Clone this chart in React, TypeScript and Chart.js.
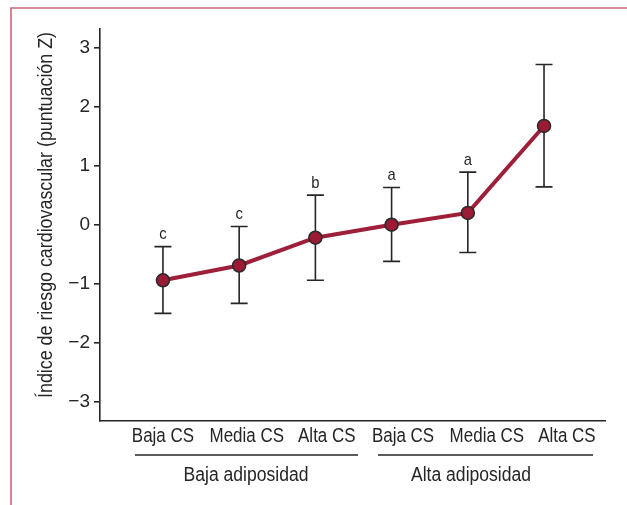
import React, { useEffect, useRef } from "react";
import { Chart, registerables } from "chart.js";

Chart.register(...registerables);

const categories = ["Baja CS", "Media CS", "Alta CS", "Baja CS", "Media CS", "Alta CS"];
const labelPositions = [1, 2.1, 3.15, 4.15, 5.25, 6.3];
const meanValues = [-0.94, -0.69, -0.22, 0.0, 0.2, 1.67];
const upperValues = [-0.37, -0.03, 0.5, 0.63, 0.89, 2.71];
const lowerValues = [-1.5, -1.33, -0.94, -0.62, -0.47, 0.64];
const letters = ["c", "c", "b", "a", "a", ""];
const yTicks = [-3, -2, -1, 0, 1, 2, 3];
const groupNames = ["Baja adiposidad", "Alta adiposidad"];
const yTitle = "Índice de riesgo cardiovascular (puntuación Z)";

const FONT = "'Liberation Sans', Arial, sans-serif";
const INK = "#262626";
const CONDENSE = 0.87;

function condensedText(ctx: any, text: string, x: number, y: number, size: number, factor = CONDENSE) {
  ctx.save();
  ctx.font = `${size}px ${FONT}`;
  ctx.fillStyle = INK;
  ctx.textAlign = "center";
  ctx.textBaseline = "middle";
  ctx.translate(x, y);
  ctx.scale(factor, 1);
  ctx.fillText(text, 0, 0);
  ctx.restore();
}

const decorPlugin = {
  id: "decor",
  beforeDatasetsDraw(chart: any) {
    const ctx = chart.ctx;
    const xs = chart.scales.x;
    const ys = chart.scales.y;
    ctx.save();
    ctx.strokeStyle = INK;
    ctx.lineWidth = 1.6;
    for (let i = 0; i < meanValues.length; i++) {
      const x = xs.getPixelForValue(i + 1);
      const yt = ys.getPixelForValue(upperValues[i]);
      const yb = ys.getPixelForValue(lowerValues[i]);
      ctx.beginPath();
      ctx.moveTo(x, yt);
      ctx.lineTo(x, yb);
      ctx.moveTo(x - 8.5, yt);
      ctx.lineTo(x + 8.5, yt);
      ctx.moveTo(x - 8.5, yb);
      ctx.lineTo(x + 8.5, yb);
      ctx.stroke();
      if (letters[i]) condensedText(ctx, letters[i], x, yt - 12, 17);
    }
    ctx.restore();
  },
  afterDraw(chart: any) {
    const ctx = chart.ctx;
    const xs = chart.scales.x;
    ctx.save();
    // frame
    ctx.strokeStyle = "#c8687c";
    ctx.lineWidth = 1.6;
    ctx.beginPath();
    ctx.moveTo(11, 505);
    ctx.lineTo(11, 8);
    ctx.lineTo(627, 8);
    ctx.stroke();
    // y title
    ctx.fillStyle = INK;
    ctx.font = `20px ${FONT}`;
    ctx.textAlign = "center";
    ctx.textBaseline = "middle";
    ctx.translate(46, 215);
    ctx.rotate(-Math.PI / 2);
    const w = ctx.measureText(yTitle).width;
    ctx.scale(366 / w, 1);
    ctx.fillText(yTitle, 0, 0);
    ctx.restore();

    // category labels along the x scale
    xs.ticks.forEach((t: any, i: number) => {
      condensedText(ctx, categories[i], xs.getPixelForValue(t.value), 437, 19.5);
    });

    ctx.save();
    ctx.strokeStyle = INK;
    ctx.lineWidth = 1.6;
    ctx.beginPath();
    ctx.moveTo(135, 455);
    ctx.lineTo(358, 455);
    ctx.moveTo(378, 455);
    ctx.lineTo(593, 455);
    ctx.stroke();
    ctx.restore();
    condensedText(ctx, groupNames[0], 246, 476, 19.5, 0.9);
    condensedText(ctx, groupNames[1], 471, 476, 19.5, 0.9);
  },
};

export default function App() {
  const ref = useRef<HTMLCanvasElement | null>(null);
  useEffect(() => {
    if (!ref.current) return;
    const chart = new Chart(ref.current, {
      type: "line",
      data: {
        datasets: [
          {
            data: meanValues.map((v, i) => ({ x: i + 1, y: v })),
            borderColor: "#9e1f3a",
            borderWidth: 4,
            pointRadius: 6.5,
            pointBackgroundColor: "#9b1b35",
            pointBorderColor: "#2a2a2a",
            pointBorderWidth: 1.5,
            tension: 0,
          },
        ],
      },
      options: {
        responsive: false,
        animation: false,
        devicePixelRatio: 1,
        layout: { padding: { top: 29, right: 22, left: 0, bottom: 0 } },
        plugins: { legend: { display: false }, tooltip: { enabled: false }, title: { display: false } },
        scales: {
          x: {
            type: "linear",
            min: 0.174,
            max: 6.8,
            afterFit: (s: any) => {
              s.height = 84;
            },
            afterBuildTicks: (s: any) => {
              s.ticks = labelPositions.map((v) => ({ value: v }));
            },
            grid: { display: false, drawTicks: false },
            border: { display: true, color: INK, width: 1.6 },
            ticks: { display: false, autoSkip: false },
          },
          y: {
            min: -3.32,
            max: 3.31,
            afterFit: (s: any) => {
              s.width = 100;
            },
            afterBuildTicks: (s: any) => {
              s.ticks = yTicks.map((v) => ({ value: v }));
            },
            grid: { display: true, drawOnChartArea: false, drawTicks: true, tickLength: 6, color: INK, lineWidth: 1.6 },
            border: { display: true, color: INK, width: 1.6 },
            ticks: {
              padding: 4,
              color: INK,
              font: { family: FONT, size: 19 },
              callback: (v: any) => (v < 0 ? "\u2212" + Math.abs(v) : String(v)),
            },
          },
        },
      },
      plugins: [decorPlugin],
    });
    return () => chart.destroy();
  }, []);
  return (
    <div style={{ position: "fixed", left: 0, top: 0, width: 627, height: 505, background: "#fff" }}>
      <canvas ref={ref} width={627} height={505} style={{ display: "block" }} />
    </div>
  );
}
